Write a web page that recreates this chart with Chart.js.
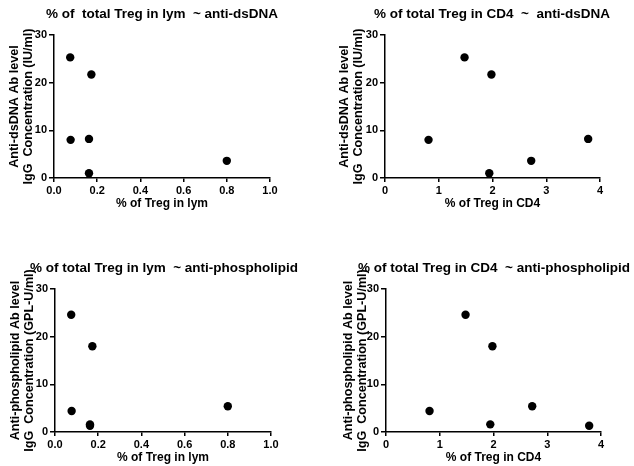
<!DOCTYPE html>
<html><head><meta charset="utf-8">
<script src="https://cdn.jsdelivr.net/npm/chart.js@4.4.1/dist/chart.umd.min.js"></script>
<style>
html,body{margin:0;padding:0;background:#fff;}
#wrap{position:relative;width:634px;height:466px;overflow:hidden;background:#fff;}
.p{position:absolute;width:317px;height:233px;}
canvas{display:block;}
</style></head><body>
<div id="wrap">
<div class="p" style="left:0;top:0"><canvas id="c1" width="317" height="233"></canvas></div>
<div class="p" style="left:317px;top:0"><canvas id="c2" width="317" height="233"></canvas></div>
<div class="p" style="left:0;top:233px"><canvas id="c3" width="317" height="233"></canvas></div>
<div class="p" style="left:317px;top:233px"><canvas id="c4" width="317" height="233"></canvas></div>
</div>
<script>
// ---- data (one entry per subject) ----
const lymPct = [0.075, 0.173, 0.077, 0.162, 0.162, 0.80];
const cd4Pct = [1.48, 1.98, 0.81, 3.78, 1.94, 2.72];
const antiDsDNA = [25.3, 21.7, 8.0, 8.2, 1.0, 3.6];
const antiPhospholipid = [24.6, 18.0, 4.4, 1.3, 1.6, 5.4];

// ---- ticks ----
const lymTicks = [0, 0.2, 0.4, 0.6, 0.8, 1.0];
const lymTickLabels = ['0.0', '0.2', '0.4', '0.6', '0.8', '1.0'];
const cd4Ticks = [0, 1, 2, 3, 4];
const cd4TickLabels = ['0', '1', '2', '3', '4'];
const yTicks = [0, 10, 20, 30];
const yTickLabels = ['0', '10', '20', '30'];

// ---- texts ----
const panelTitles = [
  '% of  total Treg in lym  ~ anti-dsDNA',
  '% of total Treg in CD4  ~  anti-dsDNA',
  '% of total Treg in lym  ~ anti-phospholipid',
  '% of total Treg in CD4  ~ anti-phospholipid'
];
const xTitleLym = '% of Treg in lym';
const xTitleCD4 = '% of Treg in CD4';
const yTitleDsDNA = ['Anti-dsDNA Ab level', 'IgG  Concentration (IU/ml)'];
const yTitlePhospho = ['Anti-phospholipid Ab level', 'IgG  Concentration (GPL-U/ml)'];

const FONT = '"Liberation Sans", Arial, Helvetica, sans-serif';
Chart.defaults.font.family = FONT;
Chart.defaults.font.weight = 'bold';
Chart.defaults.color = '#000';

const titlePlugin = {
  id: 'panelTitle',
  afterDraw(chart, args, opts) {
    const ctx = chart.ctx;
    ctx.save();
    ctx.font = 'bold ' + opts.size + 'px ' + FONT;
    ctx.fillStyle = '#000';
    ctx.textAlign = 'center';
    ctx.textBaseline = 'middle';
    ctx.fillText(opts.text, opts.x, opts.y);
    ctx.restore();
  }
};

function makePanel(id, xs, ys, title, tx, ty, xTitle, yTitle, xTickVals, xTickLabels, geo) {
  const pts = xs.map((x, i) => ({x: x, y: ys[i]}));
  new Chart(document.getElementById(id), {
    type: 'scatter',
    data: {datasets: [{data: pts, backgroundColor: '#000', borderColor: '#000', pointRadius: 4.2, pointHoverRadius: 4.2, borderWidth: 0}]},
    plugins: [titlePlugin],
    options: {
      responsive: false,
      animation: false,
      events: [],
      layout: {padding: {left: 0, top: geo.top, right: 317 - geo.right, bottom: geo.padB}},
      plugins: {
        legend: {display: false},
        tooltip: {enabled: false},
        panelTitle: {text: title, x: tx, y: ty, size: 13.5}
      },
      scales: {
        x: {
          type: 'linear',
          min: xTickVals[0], max: xTickVals[xTickVals.length - 1],
          afterBuildTicks: s => { s.ticks = xTickVals.map(v => ({value: v})); },
          afterFit: s => { s.height = geo.axH; },
          ticks: {
            font: {size: 11, weight: 'bold'}, color: '#000', padding: 2, maxRotation: 0,
            callback: (v) => { const i = xTickVals.indexOf(v); return i >= 0 ? xTickLabels[i] : ''; }
          },
          grid: {display: true, drawOnChartArea: false, drawTicks: true, tickLength: 4, color: '#000', lineWidth: 1.5},
          border: {display: true, color: '#000', width: 1.5},
          title: {display: true, text: xTitle, font: {size: 12, weight: 'bold'}, color: '#000', padding: 0}
        },
        y: {
          type: 'linear',
          min: 0, max: 30,
          afterBuildTicks: s => { s.ticks = yTicks.map(v => ({value: v})); },
          afterFit: s => { s.width = geo.left; },
          ticks: {
            font: {size: 11, weight: 'bold'}, color: '#000', padding: 2,
            callback: (v) => { const i = yTicks.indexOf(v); return i >= 0 ? yTickLabels[i] : ''; }
          },
          grid: {display: true, drawOnChartArea: false, drawTicks: true, tickLength: 5, color: '#000', lineWidth: 1.5},
          border: {display: true, color: '#000', width: 1.5},
          title: {display: true, text: yTitle, font: {size: 12.6, weight: 'bold', lineHeight: '14.5px'}, color: '#000', padding: {top: geo.yPad, bottom: 0}}
        }
      }
    }
  });
}

makePanel('c1', lymPct, antiDsDNA, panelTitles[0], 162, 14, xTitleLym, yTitleDsDNA, lymTicks, lymTickLabels,
  {left: 54, right: 270, top: 35, axH: 33, padB: 22, yPad: 7});
makePanel('c2', cd4Pct, antiDsDNA, panelTitles[1], 175, 14, xTitleCD4, yTitleDsDNA, cd4Ticks, cd4TickLabels,
  {left: 68, right: 283, top: 35, axH: 33, padB: 22, yPad: 20});
makePanel('c3', lymPct, antiPhospholipid, panelTitles[2], 164, 35, xTitleLym, yTitlePhospho, lymTicks, lymTickLabels,
  {left: 55, right: 271, top: 56, axH: 33, padB: 1, yPad: 8});
makePanel('c4', cd4Pct, antiPhospholipid, panelTitles[3], 177, 35, xTitleCD4, yTitlePhospho, cd4Ticks, cd4TickLabels,
  {left: 69, right: 284, top: 56, axH: 33, padB: 1, yPad: 24});
</script>
</body></html>
